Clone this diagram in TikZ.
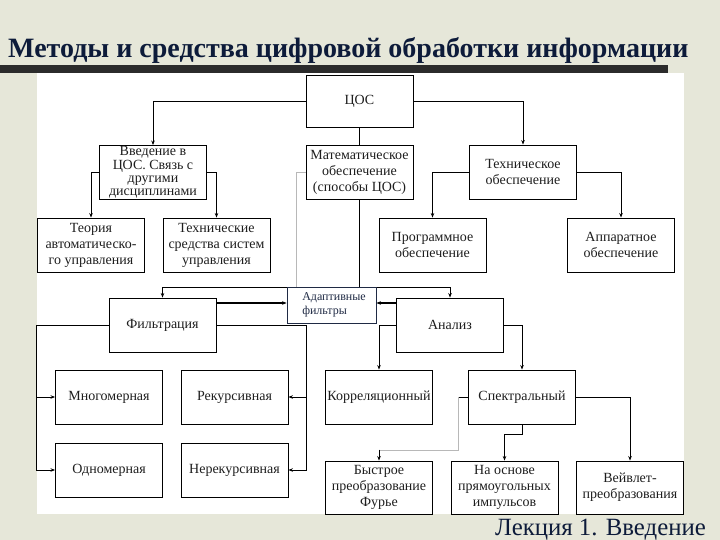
\documentclass[tikz,border=0pt]{standalone}
\usepackage{fontspec}
\setmainfont{Liberation Serif}
\usetikzlibrary{arrows.meta,calc}
\definecolor{bgc}{HTML}{E6E7D9}
\definecolor{ttl}{HTML}{0D1B3A}
\definecolor{barc}{HTML}{2B2B2B}
\definecolor{adc}{HTML}{1F2A44}
\definecolor{txt}{HTML}{1E1E1E}
\definecolor{faint}{HTML}{B8B8B8}
\begin{document}
\begin{tikzpicture}[x=1pt,y=-1pt,
  bx/.style={draw=black, line width=0.9pt, fill=white, align=center, inner sep=0pt,
    minimum width=107pt, minimum height=54pt, text=txt,
    font=\fontsize{14}{16}\selectfont},
  ln/.style={line width=0.8pt, draw=black},
  arr/.style={ln, -{Stealth[length=4.5pt,width=3.5pt]}},
  adbox/.style={draw=adc, line width=0.9pt, fill=white, align=left, inner sep=0pt,
    minimum width=89pt, minimum height=36pt, text=adc,
    font=\fontsize{12}{14.5}\selectfont}]
\useasboundingbox (0,0) rectangle (720,540);
% background and panel
\fill[bgc] (0,0) rectangle (720,540);
\fill[white] (37,73) rectangle (684,514);
\fill[barc] (0,65) rectangle (668,73);
\node[anchor=base west, inner sep=0pt, text=ttl, font=\fontsize{28}{32}\selectfont\bfseries] (title) at (8,58) {Методы и средства цифровой обработки информации};
\node[anchor=base east, inner sep=0pt, text=ttl, font=\fontsize{24.8}{28}\selectfont] (lect) at (706,535) {Лекция 1. Введение};
% nodes
\node[bx] (cos) at (359.5,101) [minimum height=52pt] {ЦОС};
\node[bx, font=\fontsize{14}{13.2}\selectfont] (vved) at (153,172.5) {Введение в\\ЦОС. Связь с\\другими\\дисциплинами};
\node[bx] (mat) at (359.5,172) {Математическое\\обеспечение\\(способы ЦОС)};
\node[bx] (tech) at (523,172) {Техническое\\обеспечение};
\node[bx] (teor) at (91,245) {Теория\\автоматическо-\\го управления};
\node[bx] (tsu) at (216.5,245) {Технические\\средства систем\\управления};
\node[bx] (prog) at (432.5,245) {Программное\\обеспечение};
\node[bx] (app) at (621,245) {Аппаратное\\обеспечение};
\node[bx] (filt) at (162.5,325) {Фильтрация};
\node[bx] (anal) at (450,325) {Анализ};
\node[bx] (mnog) at (109,397) {Многомерная};
\node[bx] (rek) at (234.5,397) {Рекурсивная};
\node[bx] (odn) at (109,470) {Одномерная};
\node[bx] (nerek) at (234.5,470) {Нерекурсивная};
\node[bx] (korr) at (379,397) {Корреляционный};
\node[bx] (spec) at (522,397) {Спектральный};
\node[bx, minimum height=53pt] (fft) at (379,487.5) {Быстрое\\преобразование\\Фурье};
\node[bx, minimum height=53pt] (pryam) at (504.5,487.5) {На основе\\прямоугольных\\импульсов};
\node[bx, minimum height=53pt] (veyv) at (630,487.5) {Вейвлет-\\преобразования};
% connectors level 1
\draw[arr] (cos.west) -| (vved.north);
\draw[arr] (cos.east) -| (tech.north);
\draw[ln] (cos.south) -- (mat.north);
\draw[arr] (vved.west) -| (teor.north);
\draw[arr] (vved.east) -| (tsu.north);
\draw[arr] (tech.west) -| (prog.north);
\draw[arr] (tech.east) -| (app.north);
% mat down
\coordinate (mb) at (359.5,287);
\draw[ln] (mat.south) -- (mb);
\draw[arr] (mb) -| (filt.north);
\draw[arr] (mb) -| (anal.north);
\coordinate (mg) at (296,172);
\draw[faint, line width=0.7pt] (mat.west) -- (mg) -- (296,287);
% filtration
\coordinate (fl) at (36,325);
\coordinate (fr) at (306,325);
\draw[arr] (filt.west) -- (fl) |- (odn.west);
\draw[arr] (fl |- mnog.west) -- (mnog.west);
\draw[arr] (filt.east) -- (fr) |- (nerek.east);
\draw[arr] (fr |- rek.east) -- (rek.east);
% analysis
\draw[arr] (anal.west |- 0,325) -| (korr.north);
\draw[arr] (anal.east) -| (spec.north);
% spectral
\coordinate (sl) at (458,397);
\coordinate (sl2) at (458,450);
\draw[ln] (spec.west) -- (sl);
\draw[faint, line width=0.7pt] (sl) -- (sl2) -- (sl2 -| fft.north);
\draw[arr] ($(sl2 -| fft.north)+(0,-0.4)$) -- (fft.north);
\draw[arr] (spec.south) -- ++(0,10) -| (pryam.north);
\draw[arr] (spec.east) -| (veyv.north);
% adaptive filters
\node[adbox] (adapt) at (331.5,305) {\hspace*{5pt}Адаптивные\\\hspace*{5pt}фильтры};
\draw[arr, line width=1.4pt] (filt.east |- 0,303) -- (adapt.west |- 0,303);
\draw[arr, line width=1.4pt] (anal.west |- 0,303) -- (adapt.east |- 0,303);
\end{tikzpicture}
\end{document}
